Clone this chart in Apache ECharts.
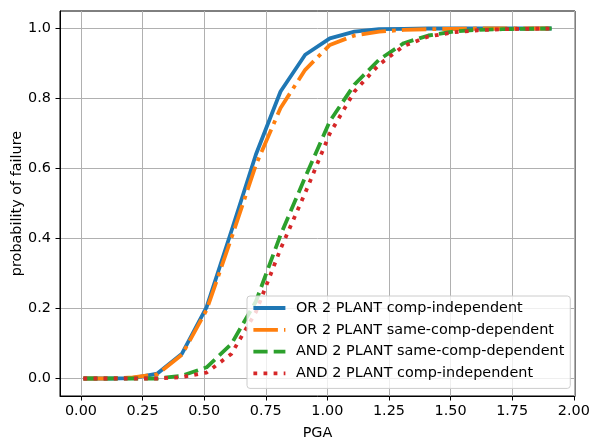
<!DOCTYPE html>
<html lang="en">
<head>
    <meta charset="UTF-8">
    <title>probability of failure vs PGA</title>
    <script src="https://cdn.jsdelivr.net/npm/echarts@6.0.0/dist/echarts.min.js"></script>
    <style>
        html, body { margin: 0; padding: 0; background: #fff; }
        #main { width: 590px; height: 441px; }
    </style>
</head>
<body>
<div id="main"></div>
<script type="text/javascript">
    // PGA sample points
    var pga = [0.01, 0.11, 0.21, 0.31, 0.41, 0.51, 0.61, 0.71, 0.81, 0.91,
               1.01, 1.11, 1.21, 1.31, 1.41, 1.51, 1.61, 1.71, 1.81, 1.91];
    // probability of failure
    var orIndep = [0, 0, 0.001, 0.014, 0.071, 0.204, 0.42, 0.64, 0.82, 0.925,
                   0.972, 0.991, 0.998, 0.999, 1, 1, 1, 1, 1, 1];
    var orSameDep = [0, 0, 0.003, 0.012, 0.068, 0.196, 0.40, 0.61, 0.773, 0.882,
                     0.953, 0.98, 0.991, 0.996, 0.998, 0.999, 1, 1, 1, 1];
    var andSameDep = [0, 0, 0, 0, 0.008, 0.032, 0.098, 0.22, 0.41, 0.575,
                      0.735, 0.84, 0.911, 0.958, 0.98, 0.991, 0.996, 0.998, 0.999, 1];
    var andIndep = [0, 0, 0, 0, 0.004, 0.017, 0.07, 0.19, 0.37, 0.53,
                    0.70, 0.82, 0.897, 0.95, 0.977, 0.989, 0.995, 0.998, 0.999, 1];

    var seriesNames = ['OR 2 PLANT comp-independent', 'OR 2 PLANT same-comp-dependent',
                       'AND 2 PLANT same-comp-dependent', 'AND 2 PLANT comp-independent'];
    var xTicks = [0, 0.25, 0.5, 0.75, 1.0, 1.25, 1.5, 1.75, 2.0];
    var yTicks = [0, 0.2, 0.4, 0.6, 0.8, 1.0];

    function pairs(ys) {
        var out = [];
        for (var i = 0; i < pga.length; i++) {
            out.push([pga[i], ys[i]]);
        }
        return out;
    }

    var font = 'DejaVu Sans';
    var fs = 14.4;
    var myChart = echarts.init(document.getElementById('main'));

    function lineSeries(name, ys, color, dash) {
        return {
            name: name,
            type: 'line',
            data: pairs(ys),
            symbol: 'none',
            showSymbol: false,
            animation: false,
            lineStyle: { color: color, width: 3.8, type: dash, cap: 'butt', join: 'round' },
            itemStyle: { color: color }
        };
    }

    var option = {
        animation: false,
        grid: {
            left: 60, top: 11, width: 515, height: 385,
            containLabel: false,
            outerBoundsMode: 'none',
            show: true, borderColor: '#000', borderWidth: 1, backgroundColor: 'transparent'
        },
        xAxis: {
            type: 'value',
            min: -0.085,
            max: 2.005,
            name: 'PGA',
            nameLocation: 'middle',
            nameGap: 30,
            nameMoveOverlap: false,
            nameTextStyle: { fontFamily: font, fontSize: fs, color: '#000' },
            axisLine: { show: true, onZero: false, lineStyle: { color: '#000', width: 1 } },
            axisTick: { show: true, length: 4.5, customValues: xTicks, lineStyle: { color: '#000', width: 1 } },
            axisLabel: {
                customValues: xTicks, margin: 8.5, fontFamily: font, fontSize: fs, color: '#000',
                formatter: function (v) { return v.toFixed(2); }
            },
            splitLine: { show: true, lineStyle: { color: '#b0b0b0', width: 1 } }
        },
        yAxis: {
            type: 'value',
            min: -0.05,
            max: 1.05,
            name: 'probability of failure',
            nameLocation: 'middle',
            nameGap: 36,
            nameMoveOverlap: false,
            nameRotate: 90,
            nameTextStyle: { fontFamily: font, fontSize: fs, color: '#000' },
            axisLine: { show: true, onZero: false, lineStyle: { color: '#000', width: 1 } },
            axisTick: { show: true, length: 4.5, customValues: yTicks, lineStyle: { color: '#000', width: 1 } },
            axisLabel: {
                customValues: yTicks, margin: 9, fontFamily: font, fontSize: fs, color: '#000',
                formatter: function (v) { return v.toFixed(1); }
            },
            splitLine: { show: true, lineStyle: { color: '#b0b0b0', width: 1 } }
        },
        legend: {
            data: seriesNames,
            orient: 'vertical',
            left: 247,
            top: 296,
            padding: [5, 6, 8, 4.5],
            itemGap: 7.8,
            itemWidth: 32,
            itemHeight: 14,
            backgroundColor: 'rgba(255,255,255,0.8)',
            borderColor: '#cccccc',
            borderWidth: 1,
            borderRadius: 3,
            itemStyle: { opacity: 0 },
            lineStyle: { width: 3.8 },
            textStyle: { fontFamily: font, fontSize: fs, color: '#000', padding: [0, 0, 0, 5.6] }
        },
        series: [
            lineSeries(seriesNames[0], orIndep, '#1f77b4', 'solid'),
            lineSeries(seriesNames[1], orSameDep, '#ff7f0e', [24.5, 6.1, 3.8, 6.1]),
            lineSeries(seriesNames[2], andSameDep, '#2ca02c', [14.2, 6.1]),
            lineSeries(seriesNames[3], andIndep, '#d62728', [3.8, 6.3])
        ]
    };
    myChart.setOption(option);
</script>
</body>
</html>
